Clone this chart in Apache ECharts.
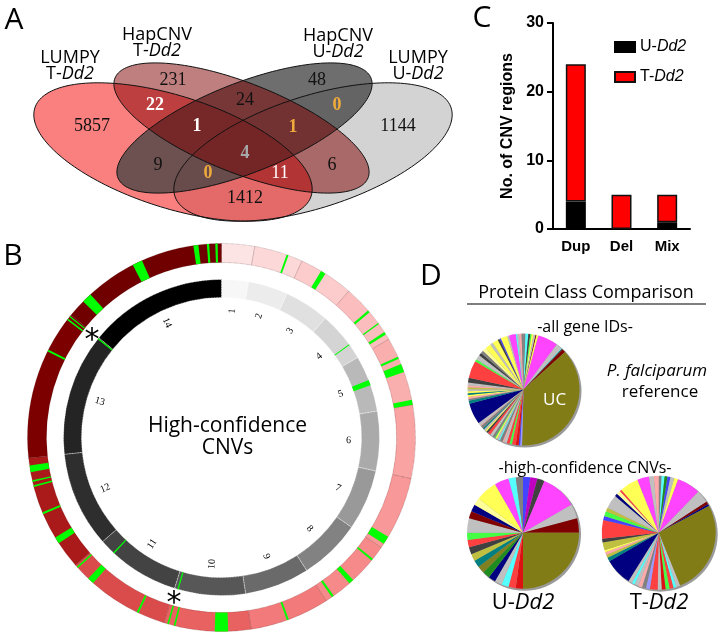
<!DOCTYPE html>
<html><head><meta charset="utf-8">
<script src="https://cdn.jsdelivr.net/npm/echarts@6/dist/echarts.min.js"></script>
<style>html,body{margin:0;padding:0;background:#fff}#c{width:720px;height:634px}</style>
</head><body><div id="c"></div>
<script>
// ================= DATA =================
// Panel A – Venn region counts
const vennRegions = ['A','B','C','D','AB','BC','CD','ABC','BCD','ABCD','AC','ACD','ABD','BD','AD'];
const vennCounts  = [5857, 231, 48, 1144, 22, 24, 0, 1, 1, 4, 9, 0, 11, 6, 1412];
const vennSetLines = [['LUMPY','T-','Dd2'],['HapCNV','T-','Dd2'],['HapCNV','U-','Dd2'],['LUMPY','U-','Dd2']];

// Panel C – CNV regions by type
const cnvTypes = ['Dup','Del','Mix'];
const cnvU = [4, 0, 1];
const cnvT = [20, 5, 4];

// Panel B – chromosomes (Mb) and high-confidence CNVs [chromosome, startMb, endMb]
const chromosomes   = ['1','2','3','4','5','6','7','8','9','10','11','12','13','14'];
const chromLengthMb = [0.640,0.947,1.067,1.200,1.344,1.418,1.446,1.473,1.542,1.688,2.038,2.271,2.925,3.292];
const cnvOuter = [
  [2,0.628,0.667],[3,0.410,0.507],[4,0.520,0.565],[4,0.827,0.853],[4,1.040,1.092],
  [5,0.375,0.420],[5,0.529,0.691],[5,1.245,1.340],[7,1.196,1.358],[8,0.265,0.304],
  [8,0.818,0.915],[8,1.297,1.342],[9,0.797,0.836],[10,0.440,0.699],[10,1.458,1.490],
  [10,1.587,1.619],[11,0.517,0.556],[11,1.559,1.688],[11,1.970,2.002],[12,0.531,0.660],
  [12,1.158,1.197],[12,1.711,1.743],[12,1.808,1.840],[12,1.999,2.128],[13,2.096,2.135],
  [13,2.805,2.837],[13,2.877,2.903],[14,0.349,0.543],[14,1.532,1.726],[14,2.752,2.849],
  [14,3.011,3.056],[14,3.173,3.218]
];
const cnvInner = [[4,0.827,0.853],[5,0.591,0.720],[10,1.587,1.619],[11,1.646,1.678],[13,2.882,2.914]];

// Panel D – protein class composition (slice order clockwise from 12 o'clock)
const refClasses = ['PC7','PC9','PC6','PC10','PC4','PC5','PC8','PC4','PC1','PC5','PC9','PC6','PC8','UC',
 'PC19','PC13','PC18','PC3','PC10','PC3','PC5','PC15','PC7','PC9','PC5','PC4','PC10','PC7','PC5','PC3','PC6','PC4','PC5','PC12','PC7','PC15',
 'PC5','PC2','PC12','PC7','PC15','PC4','PC12','PC4','PC5','PC16','PC15','PC5','PC6','PC3',
 'PC10','PC5','PC6','PC7','PC17','PC4','PC5','PC4','PC6','PC13','PC4','PC5','PC1','PC9','PC5','PC15','PC7'];
const refValues  = [2,3,2,1.5,2,2,1,2,21,6,1,1,3.5,134,
 2,1.5,3,4,2.5,3,3,1.5,3,1.5,2,1.5,1,2.5,3,3,2,1.5,2,1.5,3,1,
 3,22,3,2,2,2,2,2,2,2,2,3,5,18,
 2.5,5,3,3,4,6,3,6,2,1.5,7,2,7,1.5,2,2.5,2];
const uClasses = ['PC13','PC14','PC6','PC1','PC5','PC8','UC','PC18','PC3','PC9','PC5','PC2','PC11','PC20','PC12','PC16','PC6','PC3','PC10','PC5','PC8','PC2','PC17','PC4','PC1','PC9','PC7'];
const uValues  = [1,1,1,5,2,2,12,1,1,1,1,1,1,1,1,1,1,1,1,2,1,1,1,3,2,1,1];
const tClasses = ['PC7','PC9','PC11','PC13','PC5','PC4','PC1','PC5','PC8','PC2','UC','PC5','PC9','PC3','PC10','PC18','PC5','PC3',
 'PC19','PC7','PC15','PC5','PC9','PC5','PC2','PC12','PC16','PC15','PC4','PC16','PC6','PC3','PC13','PC10','PC16','PC5','PC2','PC17','PC3','PC4','PC1','PC5','PC15'];
const tValues  = [3,3,3,3,4,4,24,13,3,2,96,4,3,4,4,4,4,8,
 4,4,4,4,3,4,28,4,3,3,2,8,4,19,4,5,4,14,3,4,2,19,12,5,5];

// ================= STYLE / LAYOUT =================
const classColor = {UC:'#827c16',PC1:'#ff44ff',PC2:'#000080',PC3:'#ff4040',PC4:'#ffff55',PC5:'#c0c0c0',PC6:'#404040',
 PC7:'#808080',PC8:'#800000',PC9:'#55ffff',PC10:'#44ff44',PC11:'#1e8c1e',PC12:'#008080',PC13:'#4444ff',PC14:'#c000c0',
 PC15:'#ffaaaa',PC16:'#c0c040',PC17:'#ffff99',PC18:'#dd1111',PC19:'#9999ff',PC20:'#808020'};
const chromGrey = ['#f7f7f7','#ececec','#e0e0e0','#d4d4d4','#b9b9b9','#aaaaaa','#999999','#828282','#6a6a6a','#575757','#434343','#2e2e2e','#242424','#000000'];
const chromRed  = ['#fde4e4','#fcd8d8','#fccbcb','#fbbdbd','#faafaf','#f9a3a3','#f89898','#f68a8a','#f27a7a','#e86262','#da4c4c','#ab1a1a','#7c0000','#700000'];
const CIRC = [221.5, 437.5];

const vennEll = [ // A, B, C, D
  {cx:173, cy:152, a:145, b:56, rot:17.7, fill:'rgba(245,0,0,0.5)'},
  {cx:241.5, cy:128, a:136, b:45, rot:21.5, fill:'rgba(128,0,0,0.5)'},
  {cx:244.5, cy:128, a:136, b:45, rot:-21.5, fill:'rgba(67,67,67,0.77)'},
  {cx:313, cy:152, a:145, b:56, rot:-17.7, fill:'#d3d3d3'}
];
const vennDrawOrder = [3,0,2,1];
const vennLabelPos = {A:[92,126],B:[173,80],C:[317,80],D:[398,126],AB:[155,105],BC:[245,100],CD:[337,105],
  ABC:[197,126],BCD:[293,127],ABCD:[245,153],AC:[158,165],ACD:[208,173],ABD:[280,173],BD:[332,165],AD:[245,198]};
const vennLabelStyle = {AB:['#fff','bold'],ABC:['#fff','bold'],ABD:['#fff','normal'],CD:['#efaa3c','bold'],
  BCD:['#efaa3c','bold'],ACD:['#efaa3c','bold'],ABCD:['#a8a8a8','bold']};
const vennSetPos = [[70,66],[157,43],[338,44],[418,66]];

// ================= BUILD =================
function ellipsePts(e){
  const pts=[], th=e.rot*Math.PI/180;
  for(let i=0;i<180;i++){const t=i/180*2*Math.PI;
    pts.push([e.cx+e.a*Math.cos(t)*Math.cos(th)-e.b*Math.sin(t)*Math.sin(th),
              e.cy+e.a*Math.cos(t)*Math.sin(th)+e.b*Math.sin(t)*Math.cos(th)]);}
  return pts;
}
function txt(x,y,text,o){
  o=o||{};
  return {type:'text', x:x, y:y, z:o.z||10, style:Object.assign({text:text, fill:o.fill||'#000',
    fontSize:o.size||16, fontFamily:o.family||'Open Sans', fontWeight:o.weight||'normal', fontStyle:o.style||'normal',
    align:o.align||'center', textAlign:o.align||'center', verticalAlign:'middle', textVerticalAlign:'middle',
    lineHeight:o.lh||undefined}, o.extra||{})};
}
const graphics = [];
vennDrawOrder.forEach(i=>graphics.push({type:'polygon', z:1, shape:{points:ellipsePts(vennEll[i])}, style:{fill:vennEll[i].fill, stroke:null}}));
vennDrawOrder.forEach(i=>graphics.push({type:'polygon', z:2, shape:{points:ellipsePts(vennEll[i])}, style:{fill:null, stroke:'#111', lineWidth:1}}));
vennRegions.forEach((r,k)=>{
  const st = vennLabelStyle[r]||['#111','normal'];
  graphics.push(txt(vennLabelPos[r][0], vennLabelPos[r][1], String(vennCounts[k]), {family:'Liberation Serif', size:18, fill:st[0], weight:st[1]}));
});
vennSetLines.forEach((l,k)=>{
  const rich = {i:{fontStyle:'italic', fontSize:18, fontFamily:'Open Sans', fill:'#000', lineHeight:16},
                n:{fontSize:18, fontFamily:'Open Sans', fill:'#000', lineHeight:16}};
  graphics.push(txt(vennSetPos[k][0], vennSetPos[k][1], '{n|'+l[0]+'}\n{n|'+l[1]+'}{i|'+l[2]+'}', {size:18, lh:16, extra:{rich:rich}}));
});
[['A',14,20],['B',13,256],['C',482,18],['D',431,276]].forEach(p=>graphics.push(txt(p[1],p[2],p[0],{size:30})));
graphics.push(txt(CIRC[0]+6, CIRC[1], 'High-confidence\nCNVs', {size:21, lh:22, fill:'#000'}));
graphics.push(txt(92, 341, '*', {size:30, family:'DejaVu Sans'}));
graphics.push(txt(174, 604, '*', {size:30, family:'DejaVu Sans'}));
graphics.push(txt(586, 293, 'Protein Class Comparison', {size:18}));
graphics.push({type:'line', z:10, shape:{x1:467, y1:304, x2:706, y2:304}, style:{stroke:'#000', lineWidth:1.2}});
graphics.push(txt(585, 327, '-all gene IDs-', {size:16}));
graphics.push(txt(657, 371, 'P. falciparum', {size:17, style:'italic'}));
graphics.push(txt(660, 392, 'reference', {size:17}));
graphics.push(txt(585, 468, '-high-confidence CNVs-', {size:16}));
const richBig = {n:{fontSize:22, fontFamily:'Open Sans', fill:'#000'}, i:{fontSize:22, fontFamily:'Open Sans', fontStyle:'italic', fill:'#000'}};
graphics.push(txt(523, 603, '{n|U-}{i|Dd2}', {size:22, extra:{rich:richBig}}));
graphics.push(txt(659, 603, '{n|T-}{i|Dd2}', {size:22, extra:{rich:richBig}}));

const chromStart = []; let acc=0; chromLengthMb.forEach(l=>{chromStart.push(acc); acc+=l;}); const genomeLen = acc;
function markData(marks){
  const g = marks.map(m=>[chromStart[m[0]-1]+m[1], chromStart[m[0]-1]+m[2]]).sort((a,b)=>a[0]-b[0]);
  const out=[]; let pos=0;
  g.forEach(s=>{ if(s[0]>pos) out.push({value:s[0]-pos, itemStyle:{color:'rgba(0,0,0,0)'}});
    out.push({value:s[1]-Math.max(s[0],pos), itemStyle:{color:'#00ff00'}}); pos=s[1]; });
  if(genomeLen>pos) out.push({value:genomeLen-pos, itemStyle:{color:'rgba(0,0,0,0)'}});
  return out;
}
function ringPie(radius, data, extra){
  return Object.assign({type:'pie', silent:true, center:CIRC, radius:radius, startAngle:90, clockwise:true,
    label:{show:false}, labelLine:{show:false}, itemStyle:{borderWidth:0}, data:data, animation:false}, extra||{});
}
function classPie(center, r, classes, values, withUC){
  return {type:'pie', silent:true, center:center, radius:[0,r], startAngle:90, clockwise:true, animation:false, z:3,
    labelLine:{show:false}, label:{show:false}, itemStyle:{borderWidth:0},
    data: classes.map((c,i)=>{const d={name:c, value:values[i], itemStyle:{color:classColor[c]}};
      if(withUC && c==='UC') d.label={show:true, position:'inside', formatter:'UC', color:'#fff', fontSize:17, fontFamily:'Open Sans', offset:[3,-2]};
      return d;})};
}
function pieShadow(center, r){
  return {type:'pie', silent:true, center:[center[0]+1.5, center[1]+1.5], radius:[0,r+0.5], animation:false, z:2,
    label:{show:false}, labelLine:{show:false}, itemStyle:{borderWidth:0, color:'#9a9a9a'}, data:[{value:1, name:'shadow'}]};
}

const option = {
  animation:false,
  backgroundColor:'#fff',
  graphic:{elements:graphics},
  legend:{left:609, top:34, orient:'vertical', itemWidth:20, itemHeight:10, itemGap:14, icon:'rect',
    data:['U-Dd2','T-Dd2'],
    formatter:n=>'{n|'+n.slice(0,2)+'}{i|'+n.slice(2)+'}',
    textStyle:{rich:{n:{fontSize:16, fontFamily:'Liberation Sans', color:'#000'}, i:{fontSize:16, fontFamily:'Liberation Sans', fontStyle:'italic', color:'#000'}}}},
  grid:{left:553, top:23, width:137, height:206, outerBoundsMode:'none'},
  xAxis:{type:'category', data:cnvTypes, axisLine:{lineStyle:{color:'#000', width:2}},
    axisTick:{alignWithLabel:true, length:6, lineStyle:{color:'#000', width:2}},
    axisLabel:{color:'#000', fontWeight:'bold', fontSize:15, fontFamily:'Liberation Sans', margin:10}},
  yAxis:{type:'value', min:0, max:30, interval:10, splitLine:{show:false},
    axisLine:{show:true, lineStyle:{color:'#000', width:2}}, axisTick:{show:true, length:6, lineStyle:{color:'#000', width:2}},
    axisLabel:{color:'#000', fontWeight:'bold', fontSize:16, fontFamily:'Liberation Sans', margin:9},
    name:'No. of CNV regions', nameLocation:'middle', nameRotate:90, nameGap:37,
    nameTextStyle:{color:'#000', fontWeight:'bold', fontSize:16, fontFamily:'Liberation Sans'}},
  series:[
    {name:'U-Dd2', type:'bar', stack:'s', data:cnvU, barWidth:20, silent:true,
      itemStyle:{color:'#000', borderColor:'#000', borderWidth:1.5}},
    {name:'T-Dd2', type:'bar', stack:'s', data:cnvT, barWidth:20, silent:true,
      itemStyle:{color:'#ff0000', borderColor:'#111', borderWidth:1.5}},
    ringPie([140,158], chromosomes.map((c,i)=>({name:'chr'+c, value:chromLengthMb[i], itemStyle:{color:chromGrey[i]}})),
      {itemStyle:{borderWidth:0.8, borderColor:'rgba(255,255,255,0.8)', borderType:'dotted'}}),
    ringPie([175,194], chromosomes.map((c,i)=>({name:'r'+c, value:chromLengthMb[i], itemStyle:{color:chromRed[i]}})),
      {itemStyle:{borderWidth:0.6, borderColor:'rgba(60,0,0,0.5)', borderType:'dotted'}}),
    ringPie([175,194], markData(cnvOuter)),
    ringPie([140,158], markData(cnvInner)),
    ringPie([108,140], chromosomes.map((c,i)=>({name:c, value:chromLengthMb[i], itemStyle:{color:'rgba(0,0,0,0)'}})),
      {label:{show:true, position:'inside', rotate:'radial', formatter:'{b}', color:'#000', fontSize:10, fontFamily:'Liberation Serif'}}),
    pieShadow([523.5,389.5], 56),
    pieShadow([523,532.7], 56),
    pieShadow([658.7,532.7], 57),
    classPie([523.5,389.5], 56, refClasses, refValues, true),
    classPie([523,532.7], 56, uClasses, uValues, false),
    classPie([658.7,532.7], 57, tClasses, tValues, false)
  ]
};
const chart = echarts.init(document.getElementById('c'));
chart.setOption(option);
</script></body></html>
